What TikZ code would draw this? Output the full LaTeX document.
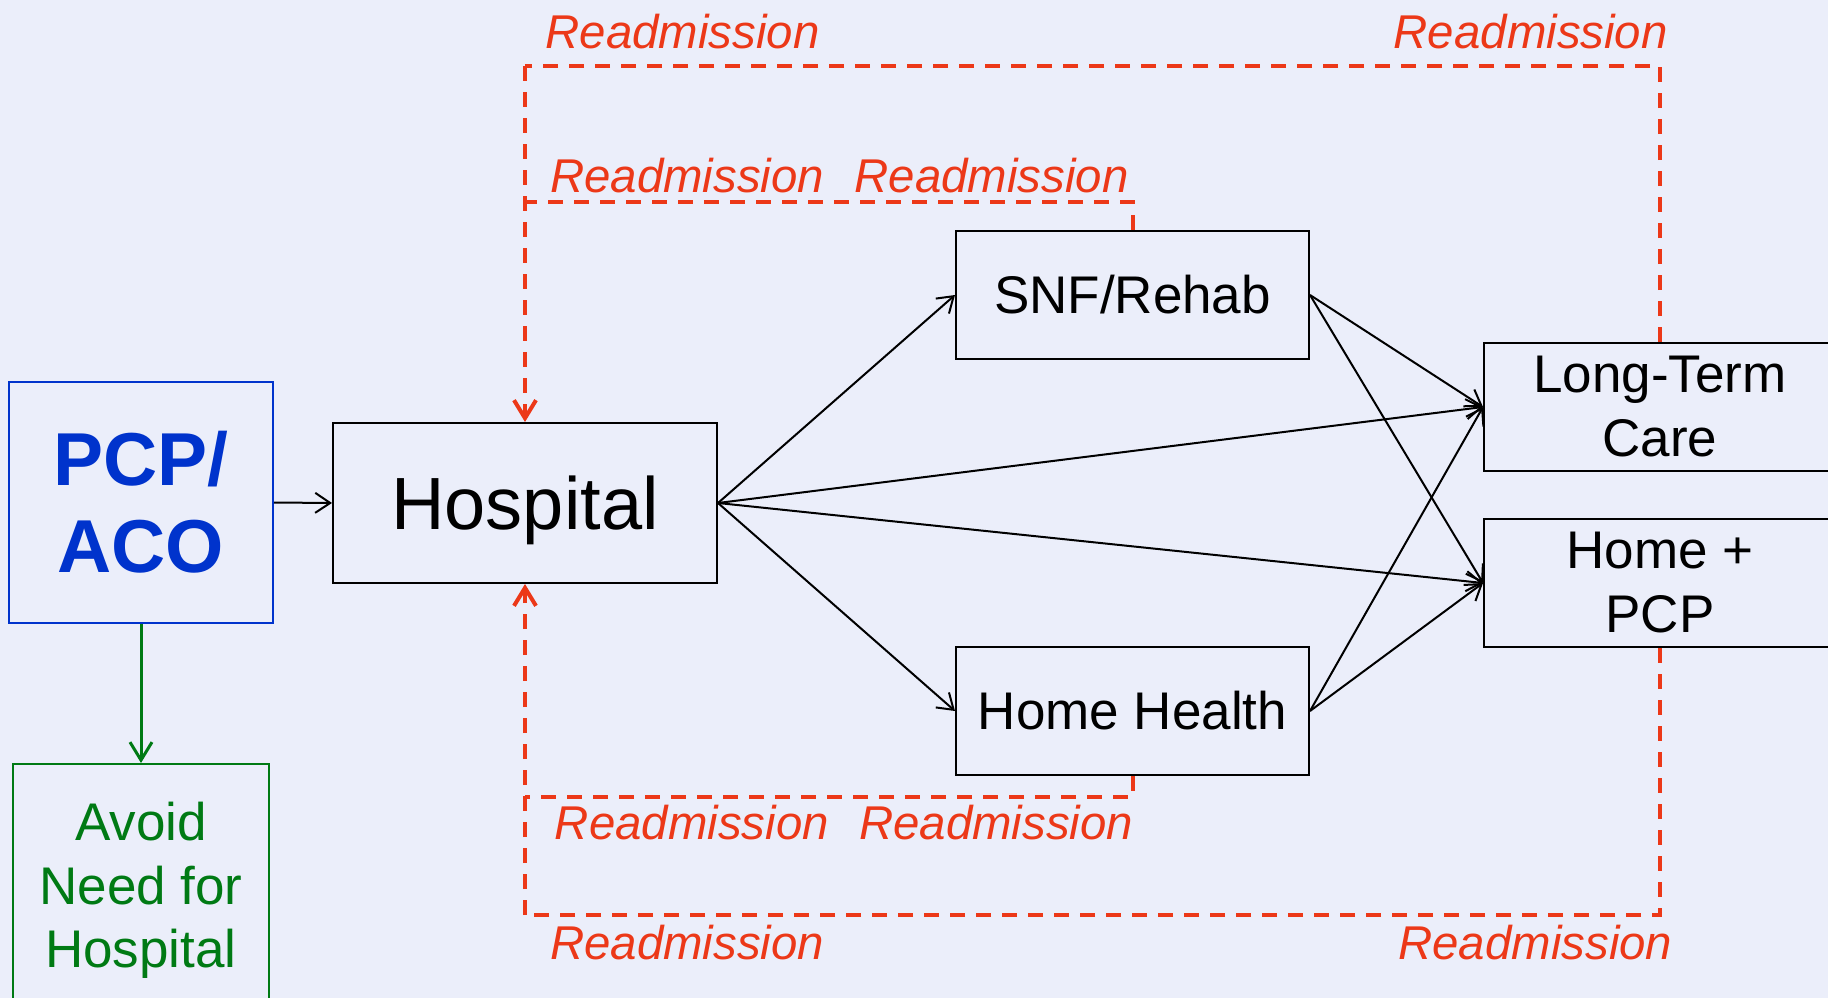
\documentclass[tikz,border=0pt]{standalone}
\usepackage{fontspec}
\setmainfont{Liberation Sans}
\usetikzlibrary{arrows.meta}
\definecolor{bgcol}{RGB}{235,238,250}
\definecolor{readred}{RGB}{236,56,24}
\definecolor{pcpblue}{RGB}{0,51,204}
\definecolor{avoidgreen}{RGB}{0,122,20}

\begin{document}
\begin{tikzpicture}[x=1pt,y=-1pt,
  box/.style={draw=black, line width=2pt, inner sep=0pt, align=center,
    minimum width=353pt, minimum height=128pt, font=\fontsize{53}{64}\selectfont},
  flow/.style={draw=black, line width=2pt, -{Straight Barb[length=15pt,width=20pt]}},
  readm/.style={draw=readred, line width=4pt, dash pattern=on 15pt off 11pt},
  readtip/.style={-{Straight Barb[length=18pt,width=22pt]}},
  rlabel/.style={text=readred, inner sep=0pt, font=\fontsize{47.4}{56}\selectfont\itshape}
]
% canvas
\fill[bgcol] (0,0) rectangle (1828,998);
\useasboundingbox (0,0) rectangle (1828,998);

% boxes
\node[box, draw=pcpblue, text=pcpblue, minimum width=264pt, minimum height=241pt,
  font=\bfseries\fontsize{75}{87}\selectfont] (pcp) at (141,502.5) {PCP/\\ACO};
\node[box, minimum width=384pt, minimum height=160pt, text depth=0pt,
  font=\fontsize{74}{88}\selectfont] (hosp) at (525,503) {Hospital};
\node[box] (snf) at (1132.5,295) {SNF/Rehab};
\node[box] (hh) at (1132.5,711) {Home Health};
\node[box, minimum width=352pt] (ltc) at (1660,407) {Long-Term\\Care};
\node[box, minimum width=352pt] (hpcp) at (1660,583) {Home +\\PCP};
\node[box, draw=avoidgreen, text=avoidgreen, minimum width=256pt, minimum height=253pt,
  font=\fontsize{53}{63.5}\selectfont] (avoid) at (141,890.5) {Avoid\\Need for\\Hospital};

% forward flows
\draw[flow] (pcp.east) -- (hosp.west);
\draw[flow, draw=avoidgreen, line width=3pt, -{Straight Barb[length=18pt,width=22pt]}] (pcp.south) -- (avoid.north);
\draw[flow] (hosp.east) -- (snf.west);
\draw[flow] (hosp.east) -- (hh.west);
\draw[flow] (hosp.east) -- (ltc.west);
\draw[flow] (hosp.east) -- (hpcp.west);
\draw[flow] (snf.east) -- (ltc.west);
\draw[flow] (snf.east) -- (hpcp.west);
\draw[flow] (hh.east) -- (ltc.west);
\draw[flow] (hh.east) -- (hpcp.west);

% readmission loops
\coordinate (otl) at (525,66);
\coordinate (itl) at (525,202);
\coordinate (ibl) at (525,797);
\coordinate (obl) at (525,915);
\draw[readm] (ltc.north) |- (otl);
\draw[readm, readtip] (otl) -- (hosp.north);
\draw[readm] (snf.north) |- (itl);
\draw[readm] (hpcp.south) |- (obl);
\draw[readm, readtip] (obl) -- (hosp.south);
\draw[readm] (hh.south) |- (ibl);

% readmission labels
\node[rlabel] (r1) at (682.6,31.5) {Readmission};
\node[rlabel] (r2) at (1530.7,31.5) {Readmission};
\node[rlabel] (r3) at (687.2,176) {Readmission};
\node[rlabel] (r4) at (991.5,176) {Readmission};
\node[rlabel] (r5) at (691.9,823) {Readmission};
\node[rlabel] (r6) at (996.2,823) {Readmission};
\node[rlabel] (r7) at (687.2,943) {Readmission};
\node[rlabel] (r8) at (1535.3,943) {Readmission};
\end{tikzpicture}
\end{document}
